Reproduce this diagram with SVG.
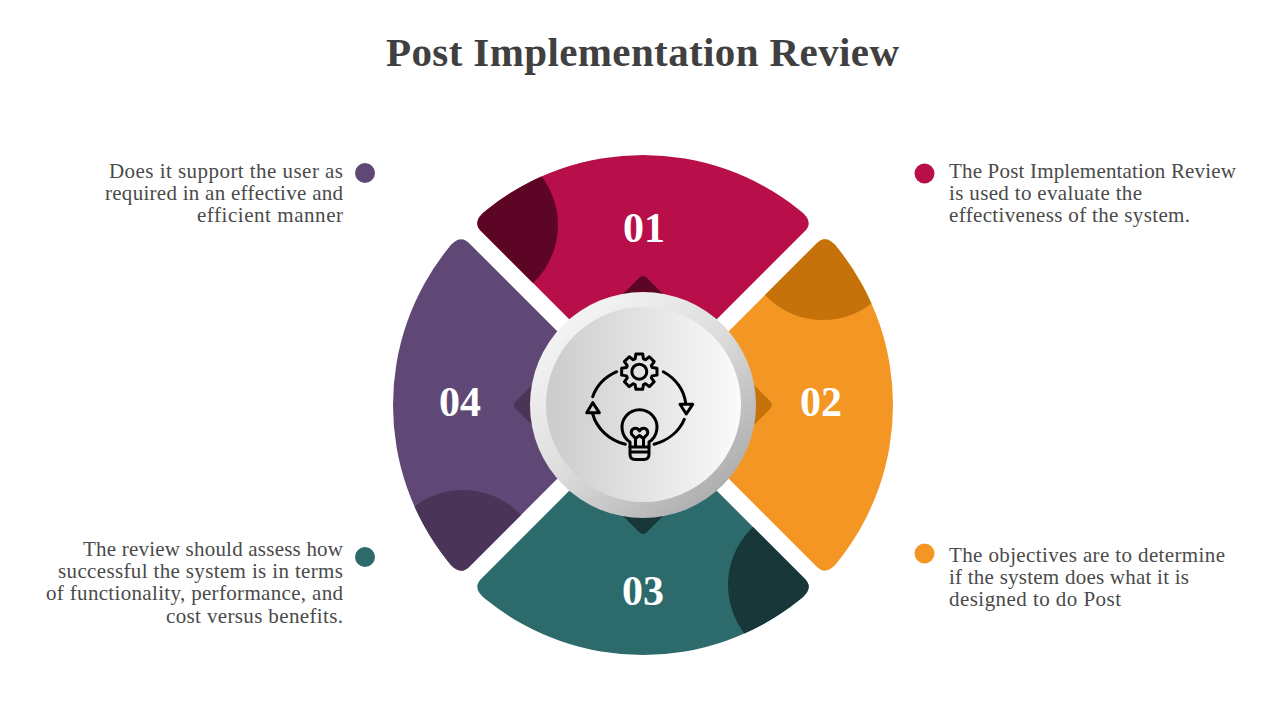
<svg xmlns="http://www.w3.org/2000/svg" width="1280" height="720" viewBox="0 0 1280 720">
<style>
.body{font-family:"Liberation Serif","Times New Roman",serif;font-size:21px;fill:#4a4a4a}
.end{text-anchor:end}
.num{font-family:"Liberation Serif","Times New Roman",serif;font-size:42px;font-weight:700;fill:#fff;text-anchor:middle}
.title{font-family:"Liberation Serif","Times New Roman",serif;font-size:41px;font-weight:700;fill:#404040;text-anchor:middle}
.ic{fill:none;stroke:#000;stroke-width:3;stroke-linecap:round;stroke-linejoin:round}
</style>
<defs>
<path id="sector" d="M482,232 Q470.5,221.5 487,209.64 A250,250 0 0 1 799,209.64 Q815.5,221.5 804,232 L643,393 Z"/>
<clipPath id="sectorClip"><use href="#sector"/></clipPath>
<g id="corner"><circle cx="478" cy="225" r="80" clip-path="url(#sectorClip)"/></g>
<path id="tip" d="M603,314 L639,278 Q643,274 647,278 L683,314 Z"/>
<linearGradient id="ringGrad" x1="0.15" y1="0.1" x2="0.85" y2="0.9">
<stop offset="0" stop-color="#f5f5f5"/><stop offset="0.5" stop-color="#dcdcdc"/><stop offset="1" stop-color="#acacac"/>
</linearGradient>
<linearGradient id="discGrad" x1="0" y1="0" x2="1" y2="0">
<stop offset="0" stop-color="#cbcbcb"/><stop offset="1" stop-color="#fbfbfb"/>
</linearGradient>
</defs>

<text class="title" x="642.5" y="66" textLength="513" lengthAdjust="spacing">Post Implementation Review</text>

<g id="node-01">
<use href="#sector" fill="#b80f4a"/>
<use href="#corner" fill="#5d0525"/>
<use href="#tip" fill="#5d0525"/>
<text class="num" x="644" y="242">01</text>
<circle cx="924.5" cy="173.5" r="10" fill="#b80f4a"/>
<text class="body"><tspan x="949" y="178" textLength="287">The Post Implementation Review</tspan><tspan x="949" y="200" textLength="193">is used to evaluate the</tspan><tspan x="949" y="222" textLength="241">effectiveness of the system.</tspan></text>
</g>

<g id="node-02">
<g transform="rotate(90 643 405)">
<use href="#sector" fill="#f39623"/>
<use href="#corner" fill="#c5720a"/>
<use href="#tip" fill="#c5720a"/>
</g>
<text class="num" x="821" y="416">02</text>
<circle cx="924.5" cy="553.5" r="10" fill="#f39623"/>
<text class="body"><tspan x="949" y="562" textLength="276">The objectives are to determine</tspan><tspan x="949" y="584" textLength="240">if the system does what it is</tspan><tspan x="949" y="606" textLength="172">designed to do Post</tspan></text>
</g>

<g id="node-03">
<g transform="rotate(180 643 405)">
<use href="#sector" fill="#2c6a6c"/>
<use href="#corner" fill="#173739"/>
<use href="#tip" fill="#173739"/>
</g>
<text class="num" x="643" y="605">03</text>
<circle cx="365" cy="557" r="10" fill="#2c6a6c"/>
<text class="body end"><tspan x="343" y="556" textLength="260">The review should assess how</tspan><tspan x="343" y="578" textLength="285">successful the system is in terms</tspan><tspan x="343" y="600" textLength="297">of functionality, performance, and</tspan><tspan x="343" y="623" textLength="177">cost versus benefits.</tspan></text>
</g>

<g id="node-04">
<g transform="rotate(270 643 405)">
<use href="#sector" fill="#604876"/>
<use href="#corner" fill="#4a3558"/>
<use href="#tip" fill="#4a3558"/>
</g>
<text class="num" x="460" y="416">04</text>
<circle cx="365" cy="173" r="10" fill="#604876"/>
<text class="body end"><tspan x="343" y="178" textLength="234">Does it support the user as</tspan><tspan x="343" y="200" textLength="238">required in an effective and</tspan><tspan x="343" y="222" textLength="146">efficient manner</tspan></text>
</g>

<g id="hub">
<circle cx="643" cy="405" r="113" fill="url(#ringGrad)"/>
<circle cx="643.5" cy="404.5" r="97.5" fill="url(#discGrad)"/>
<g class="ic">
<g transform="translate(639.3 371.7)">
<path d="M12.84,-4.17 L17.67,-3.43 L17.67,3.43 L12.84,4.17 L12.03,6.13 L14.92,10.07 L10.07,14.92 L6.13,12.03 L4.17,12.84 L3.43,17.67 L-3.43,17.67 L-4.17,12.84 L-6.13,12.03 L-10.07,14.92 L-14.92,10.07 L-12.03,6.13 L-12.84,4.17 L-17.67,3.43 L-17.67,-3.43 L-12.84,-4.17 L-12.03,-6.13 L-14.92,-10.07 L-10.07,-14.92 L-6.13,-12.03 L-4.17,-12.84 L-3.43,-17.67 L3.43,-17.67 L4.17,-12.84 L6.13,-12.03 L10.07,-14.92 L14.92,-10.07 L12.03,-6.13 Z"/>
<circle r="7.5"/>
</g>
<path d="M616.7,371.7 A47,42 0 0 0 592.7,396.7"/>
<path d="M663.3,371.7 A47,42 0 0 1 685.7,403.3"/>
<path d="M684.3,419.3 A47,42 0 0 1 654,444.3"/>
<path d="M625.3,444.3 A47,42 0 0 1 592.7,414"/>
<path d="M680,404.3 H692.7 L686.3,414 Z"/>
<path d="M586.7,412.7 H599.3 L592.7,402.7 Z"/>
<path d="M630,447 V442 A17.5,17.5 0 1 1 649,442 V447 Z"/>
<path d="M630,447 V454 Q630,459.5 635,459.5 H644 Q649,459.5 649,454 V447 M630,452 H649"/>
<path d="M635.5,446 V438.5 L631.5,434 Q630.5,430 634,428.5 Q637.5,427.5 639.5,431 Q641.5,427.5 645,428.5 Q648.5,430 647.5,434 L643.5,438.5 V446 M635.5,438.5 L639.5,435.5 L643.5,438.5"/>
</g>
</g>
</svg>
